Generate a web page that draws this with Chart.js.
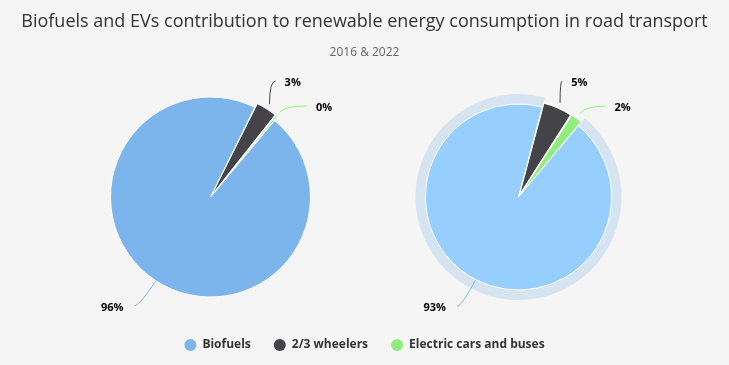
<!DOCTYPE html>
<html>
<head>
<meta charset="utf-8">
<script src="https://cdn.jsdelivr.net/npm/chart.js@4/dist/chart.umd.min.js"></script>
<style>
  body { margin: 0; background: #f5f5f5; }
  #wrap { position: relative; width: 729px; height: 365px; }
  #wrap canvas { position: absolute; left: 0; top: 0; }
</style>
</head>
<body>
<div id="wrap">
  <canvas id="pie2016" width="729" height="365"></canvas>
  <canvas id="pie2022" width="729" height="365"></canvas>
</div>
<script>
const categories = ["Biofuels", "2/3 wheelers", "Electric cars and buses"];
const share2016 = [96.2, 3.4, 0.4];
const share2022 = [93, 5, 2];

const colors = ["#7cb5ec", "#434348", "#90ed7d"];
const hoverBlue = "rgb(149,206,255)";

Chart.defaults.font.family = '"Open Sans", sans-serif';

// puts the pie centre where we want it, independent of title / legend boxes
const pieSlot = {
  id: "pieSlot",
  afterLayout(chart, args, opts) {
    Object.assign(chart.chartArea, {
      left: opts.x - 100, right: opts.x + 100,
      top: opts.y - 100, bottom: opts.y + 100,
      width: 200, height: 200
    });
  }
};

// highcharts-like hover halo round the first slice
const halo = {
  id: "halo",
  beforeDatasetsDraw(chart, args, opts) {
    if (!opts.color) return;
    const arc = chart.getDatasetMeta(0).data[0];
    const p = arc.getProps(["x", "y", "startAngle", "endAngle", "outerRadius"], true);
    const ctx = chart.ctx;
    ctx.save();
    ctx.fillStyle = opts.color;
    ctx.beginPath();
    ctx.arc(p.x, p.y, p.outerRadius + opts.size, p.startAngle, p.endAngle);
    ctx.arc(p.x, p.y, p.outerRadius, p.endAngle, p.startAngle, true);
    ctx.closePath();
    ctx.fill();
    ctx.restore();
  }
};

// outside labels with connectors
const pieLabels = {
  id: "pieLabels",
  afterDatasetsDraw(chart, args, opts) {
    const ctx = chart.ctx;
    const ds = chart.data.datasets[0];
    const labels = chart.getDatasetMeta(0).data.map((arc, i) => {
      const p = arc.getProps(["x", "y", "startAngle", "endAngle", "outerRadius"], true);
      const mid = (p.startAngle + p.endAngle) / 2;
      const edge = p.outerRadius + (arc.options.offset || 0);
      const r = edge + opts.distance;
      return {
        cx: p.x, cy: p.y, r, mid,
        right: Math.cos(mid) >= 0,
        sx: p.x + Math.cos(mid) * edge,
        sy: p.y + Math.sin(mid) * edge,
        lx: p.x + Math.cos(mid) * r,
        ly: Math.max(p.y + Math.sin(mid) * r, opts.top),
        text: Math.round(ds.data[i]) + "%",
        color: opts.connectorColors[i]
      };
    });

    [true, false].forEach(side => {
      const group = labels.filter(l => l.right === side).sort((a, b) => a.ly - b.ly);
      for (let k = 1; k < group.length; k++) {
        const l = group[k];
        if (l.ly < group[k - 1].ly + opts.spacing) {
          l.ly = group[k - 1].ly + opts.spacing;
          const dx = Math.sqrt(Math.max(l.r * l.r - (l.ly - l.cy) ** 2, 0));
          l.lx = l.cx + (side ? dx : -dx);
        }
      }
    });

    ctx.save();
    ctx.lineWidth = 1;
    ctx.font = 'bold 11px "Open Sans"';
    ctx.textBaseline = "middle";
    labels.forEach(l => {
      const ex = l.right ? l.lx - 10 : l.lx - 5;
      // where the radial line crosses the label row
      let ix = l.sx + Math.cos(l.mid) * (l.ly - l.sy) / Math.sin(l.mid);
      if (!isFinite(ix) || (ix - l.sx) * (ex - ix) < 0) ix = l.sx;
      ctx.strokeStyle = l.color;
      ctx.beginPath();
      ctx.moveTo(l.sx, l.sy);
      ctx.quadraticCurveTo(ix, l.ly, ex, l.ly);
      ctx.stroke();
      ctx.fillStyle = "#000";
      ctx.textAlign = l.right ? "left" : "right";
      ctx.fillText(l.text, l.right ? ex + 9 : ex - 11, l.ly + 2);
    });
    ctx.restore();
  }
};

function pieDataset(values, fills, radius) {
  return {
    data: values,
    backgroundColor: fills,
    borderColor: "#ffffff",
    borderWidth: 1,
    offset: [0, 10, 10],
    radius: radius,
    rotation: 40
  };
}

new Chart(document.getElementById("pie2016"), {
  type: "pie",
  data: {
    labels: categories,
    datasets: [pieDataset(share2016, colors, 100)]
  },
  options: {
    responsive: false,
    animation: false,
    events: [],
    layout: { padding: { bottom: 4 } },
    plugins: {
      pieSlot: { x: 210.5, y: 197 },
      pieLabels: { distance: 30, top: 81, spacing: 25, connectorColors: colors },
      halo: {},
      title: {
        display: true,
        text: "Biofuels and EVs contribution to renewable energy consumption in road transport",
        color: "#333333",
        font: { size: 18, weight: "normal" },
        padding: { top: 11, bottom: 8 }
      },
      subtitle: {
        display: true,
        text: "2016 & 2022",
        color: "#666666",
        font: { size: 12, weight: "normal" },
        padding: { top: 5, bottom: 0 }
      },
      legend: {
        position: "bottom",
        labels: {
          usePointStyle: true,
          pointStyle: "circle",
          boxHeight: 8.5,
          pointStyleWidth: 12,
          padding: 23,
          color: "#333333",
          font: { size: 12, weight: "bold" },
          generateLabels: chart =>
            Chart.overrides.doughnut.plugins.legend.labels.generateLabels(chart)
              .map(l => ({ ...l, strokeStyle: "rgba(0,0,0,0)", lineWidth: 0 }))
        }
      },
      tooltip: { enabled: false }
    }
  },
  plugins: [pieSlot, halo, pieLabels]
});

new Chart(document.getElementById("pie2022"), {
  type: "pie",
  data: {
    labels: categories,
    datasets: [pieDataset(share2022, [hoverBlue, colors[1], colors[2]], 93)]
  },
  options: {
    responsive: false,
    animation: false,
    events: [],
    plugins: {
      pieSlot: { x: 518.5, y: 197 },
      pieLabels: { distance: 30, top: 81, spacing: 25, connectorColors: colors },
      halo: { color: "rgba(124,181,236,0.25)", size: 10 },
      title: { display: false },
      subtitle: { display: false },
      legend: { display: false },
      tooltip: { enabled: false }
    }
  },
  plugins: [pieSlot, halo, pieLabels]
});
</script>
</body>
</html>
